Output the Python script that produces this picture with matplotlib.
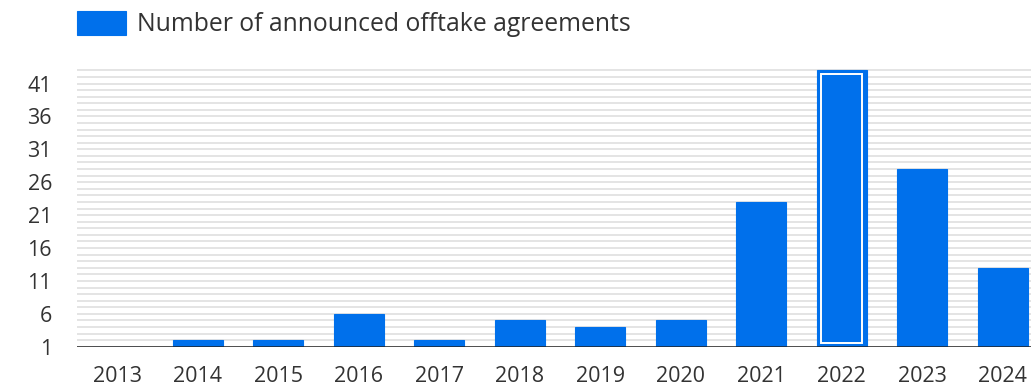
import matplotlib.pyplot as plt
import numpy as np

years = ["2013", "2014", "2015", "2016", "2017", "2018",
         "2019", "2020", "2021", "2022", "2023", "2024"]
agreements = [1, 2, 2, 6, 2, 5, 4, 5, 23, 43, 28, 13]
y_ticks = [1, 6, 11, 16, 21, 26, 31, 36, 41]
highlight = "2022"

BLUE = "#0070EB"
TEXT = "#333333"

plt.rcParams["font.family"] = ["Open Sans", "DejaVu Sans"]

fig = plt.figure(figsize=(10.31, 3.88), dpi=100)
ax = fig.add_axes([0.0747, 0.1064, 0.9253, 0.7156])

x = np.arange(len(years))
bw = 0.62
ax.bar(x, agreements, width=bw, color=BLUE, edgecolor=BLUE, linewidth=0.8,
       label="Number of announced offtake agreements", zorder=3)

# selected-bar look on 2022: white inner outline
i = years.index(highlight)
ymin, ymax = 1, 43.2
ax.bar(x[i], agreements[i] - ymin - 1.1, bottom=ymin + 0.55, width=bw - 0.11,
       facecolor="none", edgecolor="white", linewidth=1.4, zorder=4)

ax.set_xlim(-0.5, 11.35)
ax.set_ylim(ymin, ymax)

# one light grid line per unit
ax.set_yticks(y_ticks)
ax.set_yticks(np.arange(1, 44), minor=True)
ax.grid(axis="y", which="both", color="#e4e4e4", linewidth=1.4, zorder=0)
ax.axhline(ymin, color="#222222", linewidth=1.8, zorder=5)

ax.set_xticks(x)
ax.set_xticklabels(years)
ax.tick_params(axis="both", which="both", length=0, labelsize=15.5, colors=TEXT)
ax.tick_params(axis="x", pad=14)
ax.tick_params(axis="y", pad=18)
for s in ax.spines.values():
    s.set_visible(False)

fig.legend(loc="upper left", bbox_to_anchor=(0.0535, 1.03), frameon=False,
           fontsize=17.8, handlelength=1.95, handleheight=1.15, labelcolor=TEXT,
           handletextpad=0.45)

fig.savefig("out.png", dpi=100)
